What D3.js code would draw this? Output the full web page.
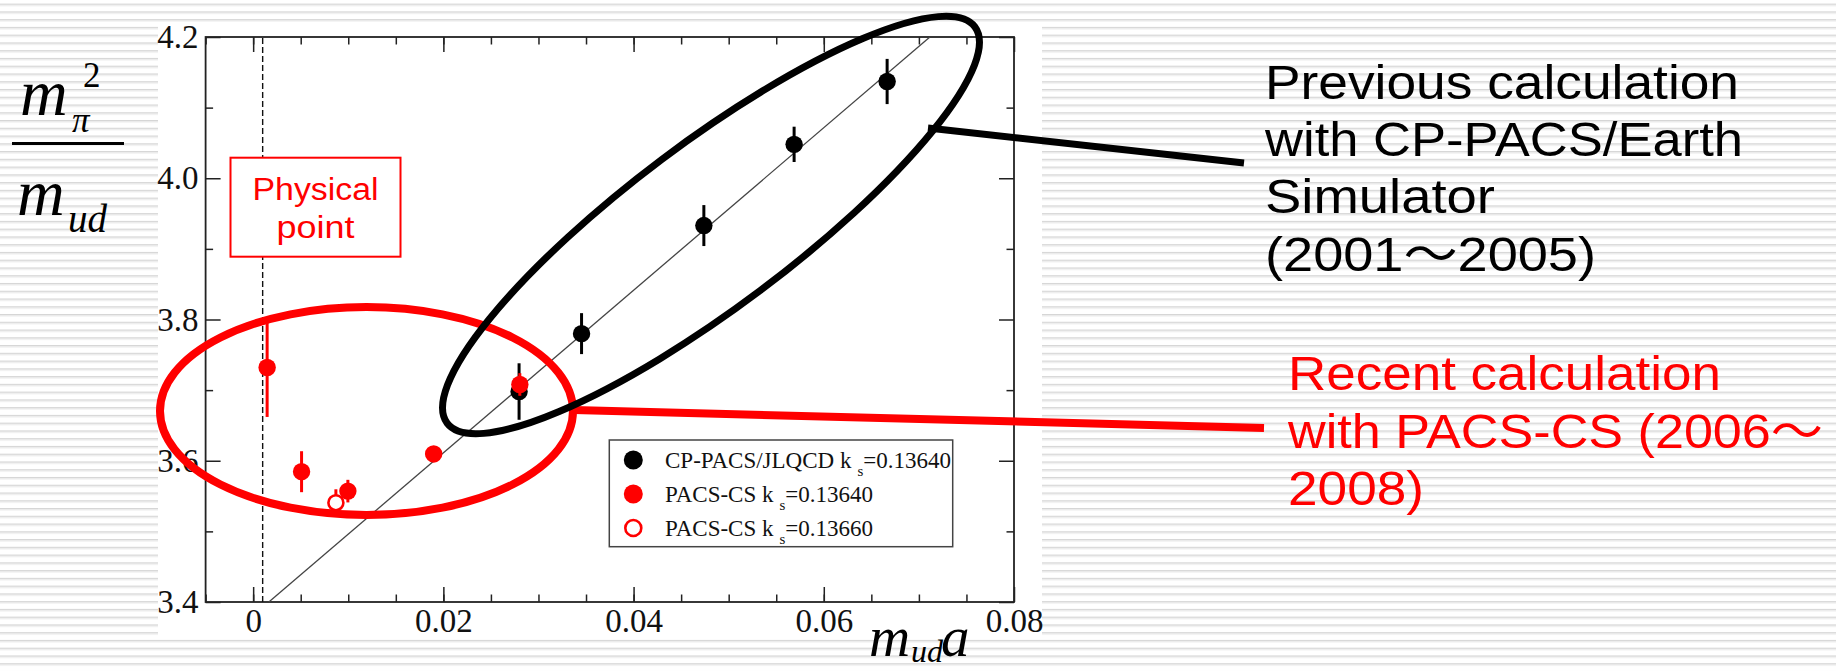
<!DOCTYPE html>
<html>
<head>
<meta charset="utf-8">
<script src="https://cdn.jsdelivr.net/npm/d3@7"></script>
<style>
  html, body { margin: 0; padding: 0; background: #fff; }
  svg { display: block; }
</style>
</head>
<body>
<div id="chart"></div>
<script>
// data
const cpX   = [0.02796, 0.03453, 0.04739, 0.05688, 0.06666];
const cpY   = [3.698, 3.780, 3.933, 4.048, 4.137];
const cpErr = [0.040, 0.029, 0.029, 0.025, 0.032];

const pcX   = [0.00147, 0.00509, 0.00996, 0.01898, 0.02804];
const pcY   = [3.732, 3.5845, 3.557, 3.6096, 3.708];
const pcErr = [0.070, 0.029, 0.016, 0.008, 0.016];

const pc2X   = [0.0087];
const pc2Y   = [3.5406];
const pc2Err = [0.019];

const xMajor = [0, 0.02, 0.04, 0.06, 0.08];
const xMinor = d3.range(0, 17).map(i => -0.005 + i * 0.005);
const yMajor = [3.4, 3.6, 3.8, 4.0, 4.2];
const yMinor = [3.5, 3.7, 3.9, 4.1];

const physX = 0.001;            // physical point
const fitA = 3.381, fitB = 11.51;  // straight line fit y = a + b x

const legendLabels = [
  ['CP-PACS/JLQCD k', 's', '=0.13640'],
  ['PACS-CS k', 's', '=0.13640'],
  ['PACS-CS k', 's', '=0.13660']
];
const prevLines   = ['Previous calculation', 'with CP-PACS/Earth', 'Simulator', '(2001～2005)'];
const prevWidths  = [474, 478, 230, 331];
const recentLines = ['Recent calculation', 'with PACS-CS (2006～', '2008)'];
const recentWidths = [433, 535, 136];

const RED = '#ff0000';
const W = 1836, H = 671;

const svg = d3.select('#chart').append('svg').attr('width', W).attr('height', H);

// striped slide background
const defs = svg.append('defs');
const pat = defs.append('pattern').attr('id', 'stripes')
  .attr('patternUnits', 'userSpaceOnUse').attr('width', 20).attr('height', 7.76).attr('y', 3.6);
pat.append('rect').attr('width', 20).attr('height', 7.76).attr('fill', '#fff');
pat.append('rect').attr('y', 0).attr('width', 20).attr('height', 1.3).attr('fill', '#d6d6d6');
pat.append('rect').attr('y', 1.3).attr('width', 20).attr('height', 1.1).attr('fill', '#e9e9e9');
svg.append('rect').attr('width', W).attr('height', H).attr('fill', 'url(#stripes)');

// white plot picture
svg.append('rect').attr('x', 158).attr('y', 24).attr('width', 884).attr('height', 612).attr('fill', '#fff');

const x = d3.scaleLinear().domain([-0.005, 0.08]).range([205.6, 1014]);
const y = d3.scaleLinear().domain([3.4, 4.2]).range([602, 37]);
const serif = '"Liberation Serif", "Times New Roman", serif';

const g = svg.append('g');

function styleAxis(sel) {
  sel.select('.domain').remove();
  sel.selectAll('line').attr('stroke', '#222').attr('stroke-width', 1.5);
  sel.selectAll('text').attr('font-family', serif).attr('font-size', 33).attr('fill', '#111');
}
// bottom
g.append('g').attr('transform', `translate(0,${y(3.4)})`)
  .call(d3.axisBottom(x).tickValues(xMinor).tickSize(-7.5).tickFormat('')).call(styleAxis);
g.append('g').attr('transform', `translate(0,${y(3.4)})`)
  .call(d3.axisBottom(x).tickValues(xMajor).tickSize(-15).tickPadding(7).tickFormat(d => d === 0 ? '0' : d3.format('.2f')(d)))
  .call(styleAxis);
// top
g.append('g').attr('transform', `translate(0,${y(4.2)})`)
  .call(d3.axisTop(x).tickValues(xMinor).tickSize(-7.5).tickFormat('')).call(styleAxis);
g.append('g').attr('transform', `translate(0,${y(4.2)})`)
  .call(d3.axisTop(x).tickValues(xMajor).tickSize(-15).tickFormat('')).call(styleAxis);
// left
g.append('g').attr('transform', `translate(${x(-0.005)},0)`)
  .call(d3.axisLeft(y).tickValues(yMinor).tickSize(-7.5).tickFormat('')).call(styleAxis);
g.append('g').attr('transform', `translate(${x(-0.005)},0)`)
  .call(d3.axisLeft(y).tickValues(yMajor).tickSize(-15).tickPadding(7).tickFormat(d3.format('.1f')))
  .call(styleAxis);
// right
g.append('g').attr('transform', `translate(${x(0.08)},0)`)
  .call(d3.axisRight(y).tickValues(yMinor).tickSize(-7.5).tickFormat('')).call(styleAxis);
g.append('g').attr('transform', `translate(${x(0.08)},0)`)
  .call(d3.axisRight(y).tickValues(yMajor).tickSize(-15).tickFormat('')).call(styleAxis);

g.append('rect')
  .attr('x', x(-0.005)).attr('y', y(4.2))
  .attr('width', x(0.08) - x(-0.005)).attr('height', y(3.4) - y(4.2))
  .attr('fill', 'none').attr('stroke', '#222').attr('stroke-width', 1.8);

// physical point dashed line
g.append('line')
  .attr('x1', x(physX)).attr('x2', x(physX)).attr('y1', y(3.4)).attr('y2', y(4.2))
  .attr('stroke', '#111').attr('stroke-width', 1.4).attr('stroke-dasharray', '6,3');

// fit line
const fx1 = (3.4 - fitA) / fitB, fx2 = (4.2 - fitA) / fitB;
g.append('line')
  .attr('x1', x(fx1)).attr('y1', y(3.4)).attr('x2', x(fx2)).attr('y2', y(4.2))
  .attr('stroke', '#444').attr('stroke-width', 1.3);

// physical point box
const box = g.append('g');
box.append('rect').attr('x', 230.5).attr('y', 157.7).attr('width', 170).attr('height', 99)
  .attr('fill', '#fff').attr('stroke', RED).attr('stroke-width', 2);
[['Physical', 200, 126], ['point', 238, 78]].forEach(([t, by, w]) => {
  box.append('text').attr('x', 315.5).attr('y', by).attr('text-anchor', 'middle')
    .attr('font-family', '"Liberation Sans", Arial, sans-serif').attr('font-size', 31)
    .attr('fill', RED).attr('textLength', w).attr('lengthAdjust', 'spacingAndGlyphs').text(t);
});

// data series
function drawSeries(xs, ys, es, color, open) {
  const data = xs.map((v, i) => ({x: v, y: ys[i], e: es[i]}));
  const s = g.append('g');
  s.selectAll('line').data(data).join('line')
    .attr('x1', d => x(d.x)).attr('x2', d => x(d.x))
    .attr('y1', d => y(d.y - d.e)).attr('y2', d => y(d.y + d.e))
    .attr('stroke', color).attr('stroke-width', 3);
  s.selectAll('circle').data(data).join('circle')
    .attr('cx', d => x(d.x)).attr('cy', d => y(d.y))
    .attr('r', open ? 7.5 : 8.7)
    .attr('fill', open ? '#fff' : color)
    .attr('stroke', color).attr('stroke-width', open ? 2.6 : 0);
}
drawSeries(cpX, cpY, cpErr, '#000', false);
drawSeries(pcX, pcY, pcErr, RED, false);
drawSeries(pc2X, pc2Y, pc2Err, RED, true);

// legend
const leg = g.append('g');
leg.append('rect').attr('x', 609.3).attr('y', 440).attr('width', 343.4).attr('height', 106.7)
  .attr('fill', '#fff').attr('stroke', '#444').attr('stroke-width', 1.5);
const legMarks = [{c: '#000', open: false}, {c: RED, open: false}, {c: RED, open: true}];
legendLabels.forEach((lab, i) => {
  const cy = 460 + i * 34;
  leg.append('circle').attr('cx', 633.3).attr('cy', cy)
    .attr('r', legMarks[i].open ? 8 : 9.5)
    .attr('fill', legMarks[i].open ? '#fff' : legMarks[i].c)
    .attr('stroke', legMarks[i].c).attr('stroke-width', legMarks[i].open ? 2.6 : 0);
  const t = leg.append('text').attr('x', 665).attr('y', cy + 7.5)
    .attr('font-family', serif).attr('font-size', 23).attr('fill', '#111');
  t.append('tspan').text(lab[0]);
  t.append('tspan').attr('dx', 6).attr('dy', 8).attr('font-size', 15).text(lab[1]);
  t.append('tspan').attr('dy', -8).text(lab[2]);
});

// axis titles
const yl = svg.append('g').attr('font-family', serif).attr('font-style', 'italic').attr('fill', '#000');
yl.append('text').attr('x', 20).attr('y', 115).attr('font-size', 66).text('m');
yl.append('text').attr('x', 72).attr('y', 132).attr('font-size', 35).text('π');
yl.append('text').attr('x', 83).attr('y', 87).attr('font-size', 35).attr('font-style', 'normal').text('2');
yl.append('line').attr('x1', 12).attr('x2', 124).attr('y1', 143.5).attr('y2', 143.5)
  .attr('stroke', '#000').attr('stroke-width', 3);
yl.append('text').attr('x', 17).attr('y', 215).attr('font-size', 66).text('m');
yl.append('text').attr('x', 68).attr('y', 232).attr('font-size', 39).text('ud');

const xl = svg.append('g').attr('font-family', serif).attr('font-style', 'italic').attr('fill', '#000');
xl.append('text').attr('x', 869).attr('y', 656).attr('font-size', 57).text('m');
xl.append('text').attr('x', 911).attr('y', 662).attr('font-size', 32).text('ud');
xl.append('text').attr('x', 941).attr('y', 656).attr('font-size', 57).text('a');

// annotation ellipses and connectors
const ann = svg.append('g').attr('fill', 'none');
ann.append('ellipse').attr('cx', 366.5).attr('cy', 411).attr('rx', 206.5).attr('ry', 104)
  .attr('stroke', RED).attr('stroke-width', 8);
ann.append('line').attr('x1', 574).attr('y1', 410).attr('x2', 1264).attr('y2', 428)
  .attr('stroke', RED).attr('stroke-width', 8);
ann.append('ellipse').attr('cx', 0).attr('cy', 0).attr('rx', 330).attr('ry', 82)
  .attr('transform', 'translate(711,225) rotate(-36.9)')
  .attr('stroke', '#000').attr('stroke-width', 7);
ann.append('line').attr('x1', 928).attr('y1', 128).attr('x2', 1244).attr('y2', 163)
  .attr('stroke', '#000').attr('stroke-width', 7);

// callout texts
const sans = '"Liberation Sans", Arial, "Noto Sans CJK JP", sans-serif';
prevLines.forEach((t, i) => {
  svg.append('text').attr('x', 1265).attr('y', 99 + i * 57.2)
    .attr('font-family', sans).attr('font-size', 48).attr('fill', '#000')
    .attr('textLength', prevWidths[i]).attr('lengthAdjust', 'spacingAndGlyphs').text(t);
});
recentLines.forEach((t, i) => {
  svg.append('text').attr('x', 1288).attr('y', 390 + i * 57.5)
    .attr('font-family', sans).attr('font-size', 48).attr('fill', RED)
    .attr('textLength', recentWidths[i]).attr('lengthAdjust', 'spacingAndGlyphs').text(t);
});
</script>
</body>
</html>
